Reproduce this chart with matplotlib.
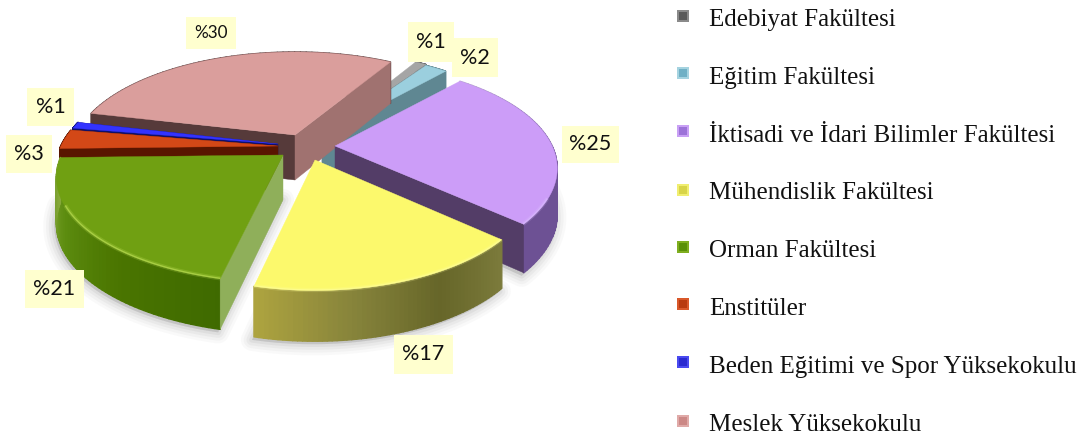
import numpy as np
import matplotlib
matplotlib.use("Agg")
import matplotlib.pyplot as plt
from matplotlib.collections import PolyCollection
from matplotlib.colors import LinearSegmentedColormap

# data
categories = ["Edebiyat Fakültesi", "Eğitim Fakültesi", "İktisadi ve İdari Bilimler Fakültesi",
              "Mühendislik Fakültesi", "Orman Fakültesi", "Enstitüler",
              "Beden Eğitimi ve Spor Yüksekokulu", "Meslek Yüksekokulu"]
values = [1, 2, 25, 17, 21, 3, 1, 30]

# colours
top_colors = ["#A5A5A5", "#9BCFDE", "#CC9DF8", "#FCF96C", "#70A012", "#D34817", "#3333FF", "#DA9E9C"]
# cut faces the viewer can see: 0 is the clockwise-first edge of a slice, 1 the last
visible_faces = [{1: "#6B6B6B"}, {1: "#5F8792"}, {1: "#533D67"}, {}, {0: "#8FAF5A"},
                 {1: "#591500"}, {1: "#10106A"}, {0: "#563A3A", 1: "#A07270"}]
wall_colors = [["#6B6B6B", "#6B6B6B"], ["#5F8792", "#5F8792"],
               ["#B5A5CC", "#8C72B2", "#6D5194", "#6D5194"],
               ["#7C7B3C", "#666629", "#87843B", "#ADA33F"],
               ["#3F6A00", "#4A7500", "#5D8D10", "#86A83A"],
               ["#591500", "#591500"], ["#10106A", "#10106A"], ["#563A3A", "#563A3A"]]
rim_colors = [None, None, "#DCC0FF", "#FFFFA0", "#C8E860", None, None, None]
marker_outer = ["#8A8A8A", "#A5D3E0", "#C9A0F5", "#F0EE70", "#7FAE20", "#D9582A", "#4A4AF0", "#E0AAA8"]
marker_inner = ["#5A5A5A", "#6FB0C5", "#9C72D8", "#D8D448", "#5A9008", "#B83A10", "#2A2AD0", "#CC8886"]

# layout, in pixels of the 1084x437 image
W, H = 1084, 437
START_ANGLE = 59
RX, RY = 215, 100.7
PERSP = 0.213
DEPTH = 45
apex = [(322, 135), (322, 136), (335, 146), (315, 160), (283, 155), (278, 146), (278, 144), (295, 135)]
scale_x = [1, 1, 1.01, 1, 1.03, 1.01, 1, 1.02]
scale_y = [1, 1, 1, 1.02, 1, 1, 1, 1]
draw_order = [0, 1, 7, 6, 5, 2, 4, 3]
label_boxes = {7: (186, 17, 236, 49, 12.3), 0: (408, 22, 454, 62, 15.5), 1: (452, 38, 498, 77, 15.5),
               2: (562, 126, 619, 163, 15.5), 3: (394, 335, 453, 374, 15.5), 4: (25, 270, 84, 308, 15.5),
               5: (6, 135, 52, 173, 15.5), 6: (27, 88, 74, 126, 15.5)}
label_order = [7, 0, 1, 2, 3, 4, 5, 6]
legend_text_y = [26, 84, 142, 199, 257, 315, 373, 431]
legend_marker_y = [16, 73, 131, 190, 247, 304, 362, 421]


def project(theta, r, i, z=0.0):
    t = np.radians(theta)
    u, v = r * np.cos(t), r * np.sin(t)
    w = 1 + PERSP * v
    x = apex[i][0] + RX * scale_x[i] * u / w
    y = apex[i][1] - RY * scale_y[i] * v / w + z * DEPTH / np.sqrt(w)
    return np.column_stack([np.atleast_1d(x), np.atleast_1d(y)])


edges = START_ANGLE - 3.6 * np.concatenate([[0], np.cumsum(values)])

fig = plt.figure(figsize=(W / 100, H / 100), dpi=100)
ax = fig.add_axes([0, 0, 1, 1])
ax.set_xlim(0, W)
ax.set_ylim(H, 0)
ax.axis("off")

# soft shadows under the front slices
for i in [2, 3, 4]:
    th = np.linspace(edges[i], edges[i + 1], 80)
    rim = project(th, 1.0, i, 1.0) + [-2, 3]
    foot = np.vstack([project(edges[i], 0, i, 1.0), rim])
    for lw, a in zip([16, 12, 8, 4], [0.03, 0.04, 0.05, 0.07]):
        ax.fill(foot[:, 0], foot[:, 1], facecolor="#555555", edgecolor="#555555",
                alpha=a, linewidth=lw, joinstyle="round", zorder=1)

z = 2
for i in draw_order:
    th1, th2 = edges[i], edges[i + 1]
    th = np.linspace(th1, th2, 60)

    # outer wall in strips, so the shading can run along the arc
    cmap = LinearSegmentedColormap.from_list("wall", wall_colors[i])
    polys, cols = [], []
    for k in range(len(th) - 1):
        pts = np.vstack([project(th[k:k + 2], 1.0, i), project(th[k:k + 2][::-1], 1.0, i, 1.0)])
        polys.append(pts)
        cols.append(cmap(k / (len(th) - 2)))
    ax.add_collection(PolyCollection(polys, facecolors=cols, edgecolors=cols, linewidths=1.0, zorder=z))
    z += 1

    # the cut faces that show
    for which, col in visible_faces[i].items():
        th_edge = th1 if which == 0 else th2
        a, b = project(th_edge, 0, i), project(th_edge, 1.0, i)
        c, d = project(th_edge, 1.0, i, 1.0), project(th_edge, 0, i, 1.0)
        q = np.vstack([a, b, c, d])
        ax.fill(q[:, 0], q[:, 1], color=col, linewidth=0.3, zorder=z)
    z += 1

    # top
    top = np.vstack([project(th1, 0, i), project(th, 1.0, i)])
    ax.fill(top[:, 0], top[:, 1], color=top_colors[i], linewidth=0.3, zorder=z)
    z += 1

    if rim_colors[i]:
        front = th[np.sin(np.radians(th)) < -0.45]
        r = project(front, 0.997, i)
        ax.plot(r[:, 0], r[:, 1], color=rim_colors[i], lw=3, alpha=0.2, zorder=z, solid_capstyle="butt")
        ax.plot(r[:, 0], r[:, 1], color=rim_colors[i], lw=1.0, alpha=0.55, zorder=z, solid_capstyle="butt")
        z += 1

# value labels
for i in label_order:
    x0, y0, x1, y1, fs = label_boxes[i]
    ax.fill([x0, x1, x1, x0], [y0, y0, y1, y1], color="#FFFFCF", linewidth=0, zorder=z)
    z += 1
    ax.text((x0 + x1) / 2, (y0 + y1) / 2, f"%{values[i]}", family="Lato", fontsize=fs,
            ha="center", va="center", color="#111111", zorder=z)
    z += 1

# legend
for i, name in enumerate(categories):
    ax.scatter([683], [legend_marker_y[i]], marker="s", s=85, color=marker_outer[i], linewidths=0, zorder=z)
    ax.scatter([683], [legend_marker_y[i]], marker="s", s=30, color=marker_inner[i], linewidths=0, zorder=z + 1)
    ax.text(709, legend_text_y[i], name, family="Liberation Serif", fontsize=18,
            ha="left", va="baseline", color="#111111", zorder=z)

fig.savefig("out.png", dpi=100)
